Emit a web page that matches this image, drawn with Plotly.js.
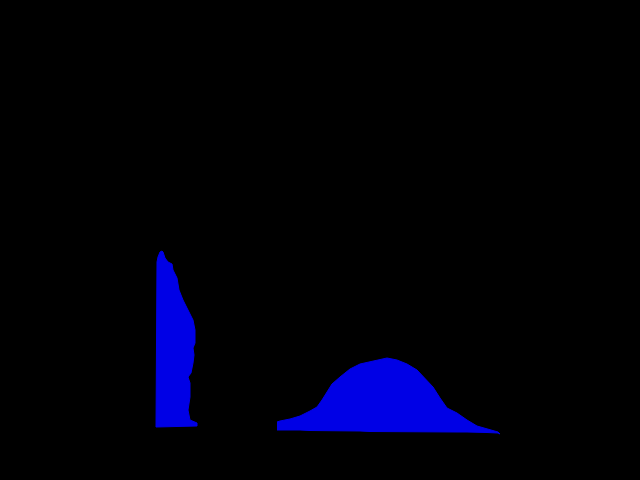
<!DOCTYPE html>
<html>
<head>
<meta charset="utf-8">
<script src="https://cdn.plot.ly/plotly-3.0.1.min.js"></script>
<style>
html, body { margin: 0; padding: 0; background: #000; }
#myDiv { width: 640px; height: 480px; }
</style>
</head>
<body>
<div id="myDiv"></div>
<script>
// left group: outline, going up the left side,
// over the top and back down the right side
var leftX = [156, 156.5, 157, 157, 158, 160, 162, 163, 164, 165, 168, 172, 173, 177, 179, 183, 188, 193, 195, 195, 193, 194, 193, 191, 188, 190, 190, 188, 190, 197, 197, 156];
var leftY = [53, 120, 160, 218, 223, 228, 229, 228, 225, 222, 218, 216, 210, 202, 190, 180, 170, 160, 150, 137, 132, 125, 117, 107, 103, 97, 83, 70, 60, 57, 54, 53];

// right group: positions, upper and lower outline
var rightPos   = [277, 280, 290, 300, 310, 317, 322, 327, 332, 340, 350, 360, 370, 382, 387, 397, 407, 417, 427, 433, 440, 447, 457, 467, 477, 487, 498, 500];
var rightUpper = [58, 59, 61, 64, 69, 73, 80, 88, 96, 103, 111, 116, 118, 121, 122, 120, 116, 110, 100, 93, 82, 72, 67, 60, 54, 51, 48, 46];
var rightLower = [50, 50, 50, 50, 49.5, 49.5, 49.5, 49, 49, 49, 49, 49, 48.5, 48.5, 48.5, 48.5, 48.5, 48.5, 48, 48, 48, 48, 48, 48, 48, 47.5, 47, 46];

function outline(a, b) {
    // go out along a, come back along b reversed
    return a.concat(b.slice().reverse());
}

var blue = 'rgb(0,0,230)';

var trace1 = {
    x: leftX,
    y: leftY,
    mode: 'lines',
    fill: 'toself',
    fillcolor: blue,
    line: {color: blue, width: 1},
    hoverinfo: 'skip',
    type: 'scatter'
};

var trace2 = {
    x: outline(rightPos, rightPos),
    y: outline(rightUpper, rightLower),
    mode: 'lines',
    fill: 'toself',
    fillcolor: blue,
    line: {color: blue, width: 1},
    hoverinfo: 'skip',
    type: 'scatter'
};

var layout = {
    width: 640,
    height: 480,
    paper_bgcolor: '#000',
    plot_bgcolor: '#000',
    showlegend: false,
    margin: {l: 0, r: 0, t: 0, b: 0},
    xaxis: {range: [0, 640], visible: false, fixedrange: true},
    yaxis: {range: [0, 480], visible: false, fixedrange: true}
};

Plotly.newPlot('myDiv', [trace1, trace2], layout, {displayModeBar: false, staticPlot: true});
</script>
</body>
</html>
